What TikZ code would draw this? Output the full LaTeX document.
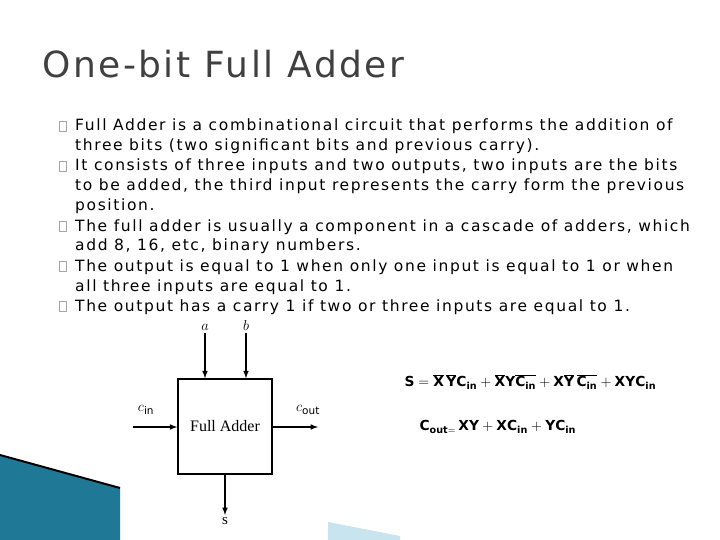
\documentclass[tikz,border=0pt]{standalone}
\usepackage{fontspec}
\setmainfont{DejaVu Sans}
\newfontfamily\bodyfont[LetterSpace=10.5]{DejaVu Sans}
\newfontfamily\titlefont[LetterSpace=7]{DejaVu Sans}
\newfontfamily\blockfont{Liberation Serif}
\usetikzlibrary{positioning}
\definecolor{DeckTeal}{RGB}{30, 120, 150}
\definecolor{DeckLight}{RGB}{200, 228, 238}

\tikzset{
  bodyline/.style={anchor=base west, inner sep=0pt, font=\bodyfont\fontsize{15.5}{17}\selectfont},
  bulletbox/.style={draw=gray!70, line width=0.5pt, minimum width=7pt, minimum height=10pt, inner sep=0pt},
  sig/.style={-latex, line width=1.5pt},
  pinlabel/.style={font=\blockfont\fontsize{15}{17}\selectfont, inner sep=1pt}
}

\begin{document}
\begin{tikzpicture}[x=1pt, y=-1pt]
  \useasboundingbox (0,0) rectangle (720,540);

  % slide decoration
  \fill[DeckTeal] (0,455) -- (120,488) -- (120,540) -- (0,540) -- cycle;
  \draw[line width=2pt] (0,455) -- (120,488);
  \fill[DeckLight] (328,522) -- (400,536) -- (400,540) -- (328,540) -- cycle;

  % title
  \node[anchor=base west, inner sep=0pt, font=\titlefont\fontsize{36}{40}\selectfont, text=black!75] (title) at (42,78) {One-bit Full Adder};

  % bullet lines
  \foreach \y/\txt [count=\i] in {
      131/{Full Adder is a combinational circuit that performs the addition of},
      151/{three bits (two significant bits and previous carry).},
      171/{It consists of three inputs and two outputs, two inputs are the bits},
      191/{to be added, the third input represents the carry form the previous},
      211/{position.},
      231/{The full adder is usually a component in a cascade of adders, which},
      251/{add 8, 16, etc, binary numbers.},
      271/{The output is equal to 1 when only one input is equal to 1 or when},
      291/{all three inputs are equal to 1.},
      311/{The output has a carry 1 if two or three inputs are equal to 1.}} {
    \node[bodyline] (line\i) at (75,\y) {\txt};
  }
  \foreach \y/\n in {126/1, 166/2, 226/3, 266/4, 306/5} {
    \node[bulletbox] (bul\n) at (63,\y) {};
  }

  % full adder block
  \node[draw, line width=1.5pt, minimum width=94pt, minimum height=95pt,
        font=\blockfont\fontsize{16}{18}\selectfont] (fa) at (225,426.5) {Full Adder};
  \coordinate (ain) at (205,333);
  \coordinate (bin) at (246,333);
  \coordinate (cinpt) at (133,427);
  \coordinate (coutpt) at (318,427);
  \coordinate (spt) at (225,515);
  \draw[sig] (ain) -- (ain |- fa.north);
  \draw[sig] (bin) -- (bin |- fa.north);
  \draw[sig] (cinpt) -- (fa.west |- cinpt);
  \draw[sig] (fa.east |- coutpt) -- (coutpt);
  \draw[sig] (fa.south) -- (spt);
  \node[pinlabel, above=1pt of ain] (alabel) {$a$};
  \node[pinlabel, above=1pt of bin] (blabel) {$b$};
  \node[pinlabel] (cinlabel) at (146,410) {$c_{\mathrm{in}}$};
  \node[pinlabel] (coutlabel) at (308,410) {$c_{\mathrm{out}}$};
  \node[pinlabel, below=1pt of spt] (slabel) {s};

  % equations
  \node[anchor=west, font=\fontsize{13.8}{16}\selectfont\bfseries] (sumeq) at (401,382)
    {$\mathbf{S = \overline{X}\,\overline{Y}C_{in} + \overline{X}Y\overline{C_{in}} + X\overline{Y}\,\overline{C_{in}} + XYC_{in}}$};
  \node[anchor=west, font=\fontsize{13.8}{16}\selectfont\bfseries] (carryeq) at (416,427)
    {$\mathbf{C_{out=}\, XY + XC_{in} + YC_{in}}$};
\end{tikzpicture}
\end{document}
